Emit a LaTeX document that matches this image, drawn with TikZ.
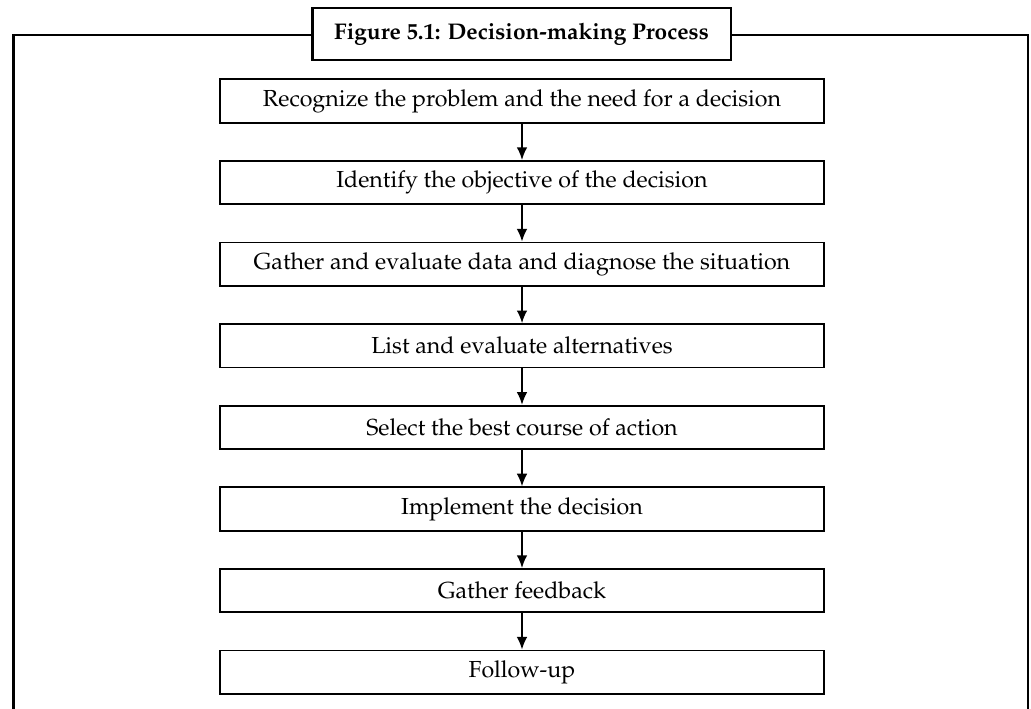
\documentclass[tikz,border=0pt]{standalone}
\usepackage[T1]{fontenc}
\usepackage{mathpazo}
\usetikzlibrary{arrows.meta}
\begin{document}
\begin{tikzpicture}[x=0.75pt,y=-0.75pt,>={Latex[length=9.5pt,width=8pt]}, line join=miter]
	\tikzset{stage/.style={draw,line width=1.4pt,minimum width=453pt,minimum height=32.5pt,inner sep=0pt,font=\fontsize{17.4}{20}\selectfont}}
	\def\xc{522} \def\ytop{101} \def\pitch{81.6}
	\useasboundingbox (0,0) rectangle (1031,709);
	% outer frame, open at the bottom
	\draw[line width=2.2pt] (13.5,740)--(13.5,35)--(1028,35)--(1028,740);
	\node[draw,line width=2pt,fill=white,minimum width=314pt,minimum height=39pt,font=\fontsize{17}{19}\selectfont\bfseries] (title) at (521.5,34) {Figure 5.1: Decision-making Process};
	\foreach \t [count=\i] in {Recognize the problem and the need for a decision,
		Identify the objective of the decision,
		Gather and evaluate data and diagnose the situation,
		List and evaluate alternatives,
		Select the best course of action,
		Implement the decision,
		Gather feedback,
		Follow-up}
		\node[stage] (b\i) at (\xc,{\ytop+\pitch*(\i-1)}) {\t};
	\foreach \i [evaluate=\i as \j using int(\i+1)] in {1,...,7}
		\draw[->,line width=1.3pt] (b\i)--(b\j);
\end{tikzpicture}
\end{document}
